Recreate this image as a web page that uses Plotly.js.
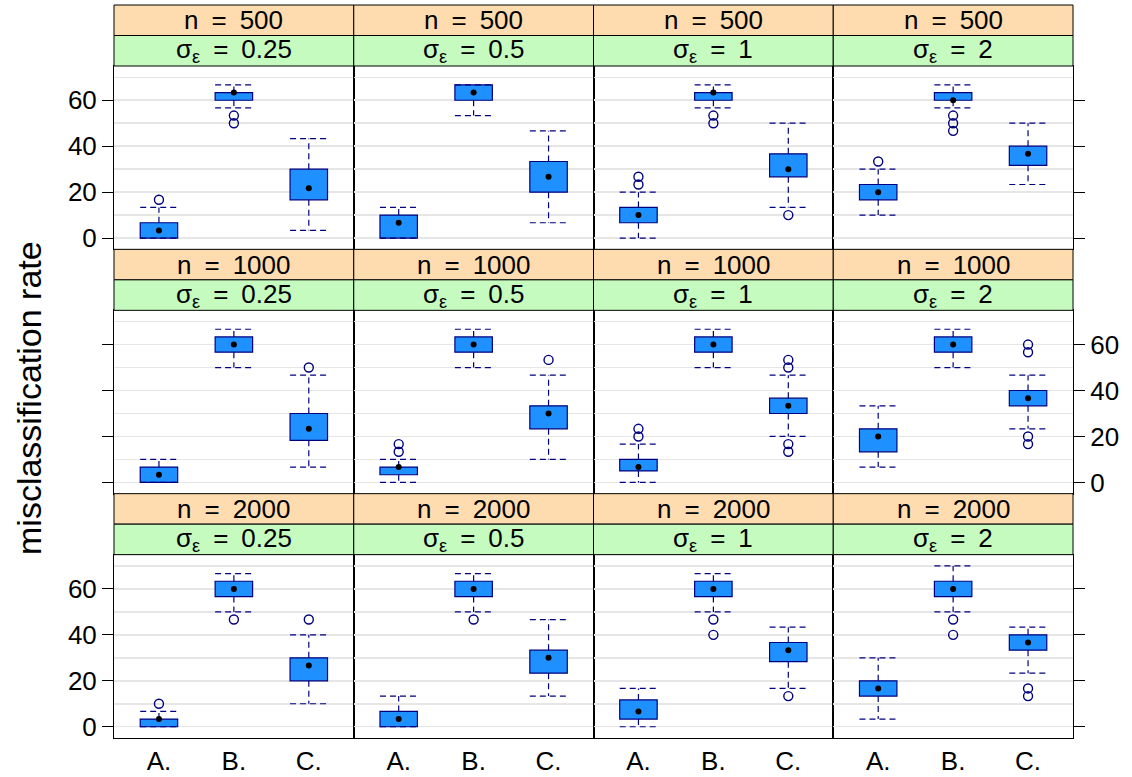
<!DOCTYPE html>
<html>
<head>
<meta charset="utf-8">
<script src="https://cdn.plot.ly/plotly-3.0.1.min.js"></script>
<style>
  html, body { margin: 0; padding: 0; background: #fff; }
  #chart { width: 1132px; height: 777px; }
</style>
</head>
<body>
<div id="chart"></div>
<script>
// Classifier groups on the x axis
const categories = ['A.', 'B.', 'C.'];
// Strip labels: sample size (rows, top to bottom) and noise level (columns)
const sampleSizes = ['500', '1000', '2000'];
const noiseLevels = ['0.25', '0.5', '1', '2'];
// y axis tick labels
const yTicks = [0, 20, 40, 60];

// Box statistics per panel (row-major: n=500 σ=0.25..2, n=1000 ..., n=2000 ...),
// each entry gives the values for A., B., C.
const boxLower = [
  [0, 60, 16.67], [0, 60, 20], [6.67, 60, 26.67], [16.67, 60, 31.67],
  [0, 56.67, 18.33], [3.33, 56.67, 23.33], [5, 56.67, 30], [13.33, 56.67, 33.33],
  [0, 56.67, 20], [0, 56.67, 23.33], [3.33, 56.67, 28.33], [13.33, 56.67, 33.33]
];
const boxMedian = [
  [3.33, 63.33, 21.67], [6.67, 63.33, 26.67], [10, 63.33, 30], [20, 60, 36.67],
  [3.33, 60, 23.33], [6.67, 60, 30], [6.67, 60, 33.33], [20, 60, 36.67],
  [3.33, 60, 26.67], [3.33, 60, 30], [6.67, 60, 33.33], [16.67, 60, 36.67]
];
const boxUpper = [
  [6.67, 63.33, 30], [10, 66.67, 33.33], [13.33, 63.33, 36.67], [23.33, 63.33, 40],
  [6.67, 63.33, 30], [6.67, 63.33, 33.33], [10, 63.33, 36.67], [23.33, 63.33, 40],
  [3.33, 63.33, 30], [6.67, 63.33, 33.33], [11.67, 63.33, 36.67], [20, 63.33, 40]
];
const whiskerLow = [
  [0, 56.67, 3.33], [0, 53.33, 6.67], [0, 56.67, 13.33], [10, 56.67, 23.33],
  [0, 50, 6.67], [0, 50, 10], [0, 50, 20], [6.67, 50, 23.33],
  [0, 50, 10], [0, 50, 13.33], [0, 50, 16.67], [3.33, 50, 23.33]
];
const whiskerHigh = [
  [13.33, 66.67, 43.33], [13.33, 66.67, 46.67], [20, 66.67, 50], [30, 66.67, 50],
  [10, 66.67, 46.67], [10, 66.67, 46.67], [16.67, 66.67, 46.67], [33.33, 66.67, 46.67],
  [6.67, 66.67, 40], [13.33, 66.67, 46.67], [16.67, 66.67, 43.33], [30, 70, 43.33]
];
const outliers = [
  [[16.67], [53.33, 50], []],
  [[], [], []],
  [[23.33, 26.67], [53.33, 50], [10]],
  [[33.33], [53.33, 50, 46.67], []],
  [[], [], [50]],
  [[13.33, 16.67], [], [53.33]],
  [[20, 23.33], [], [50, 53.33, 13.33, 16.67]],
  [[], [], [56.67, 60, 16.67, 20]],
  [[10], [46.67], [46.67]],
  [[], [46.67], []],
  [[], [46.67, 40], [13.33]],
  [[], [46.67, 40], [16.67, 13.33]]
];

// ---- page geometry (pixels) ----
const W = 1132, H = 777;
const plotL = 114, plotR = 1073, plotT = 5, plotB = 738;
const nRows = sampleSizes.length, nCols = noiseLevels.length;
const colW = (plotR - plotL) / nCols;
const rowH = (plotB - plotT) / nRows;
const stripH = 30.5;
const fx = px => (px - plotL) / (plotR - plotL);
const fy = py => (plotB - py) / (plotB - plotT);

const FONT = 'Liberation Sans, Arial, Helvetica, sans-serif';
const BOX_FILL = '#1E90FF';
const EDGE = '#00007F';
const GRID = '#e6e6e6';
const STRIP_TOP = '#ffdcb0';
const STRIP_BOTTOM = '#c6fbbf';
const TEXT_SIZE = 26;
const SP = '\u2002';
const boxWidth = 0.5;

const traces = [];
const layout = {
  width: W, height: H,
  margin: { l: plotL, r: W - plotR, t: plotT, b: H - plotB, pad: 0 },
  paper_bgcolor: '#fff', plot_bgcolor: '#fff',
  showlegend: false,
  font: { family: FONT, color: '#000' },
  shapes: [], annotations: [],
  bargap: 0
};

for (let r = 0; r < nRows; r++) {
  for (let c = 0; c < nCols; c++) {
    const p = r * nCols + c;
    const id = p === 0 ? '' : String(p + 1);
    const xa = 'x' + id, ya = 'y' + id;
    const left = plotL + c * colW, right = left + colW;
    const top = plotT + r * rowH;
    const panelTop = top + 2 * stripH, panelBot = top + rowH;

    const xIdx = categories.map((_, i) => i + 1);

    // whiskers and caps (dashed)
    const wx = [], wy = [];
    xIdx.forEach((x, i) => {
      const lo = boxLower[p][i], hi = boxUpper[p][i];
      const wl = whiskerLow[p][i], wh = whiskerHigh[p][i];
      wx.push(x, x, null, x - boxWidth / 2, x + boxWidth / 2, null);
      wy.push(hi, wh, null, wh, wh, null);
      wx.push(x, x, null, x - boxWidth / 2, x + boxWidth / 2, null);
      wy.push(lo, wl, null, wl, wl, null);
    });
    traces.push({
      type: 'scatter', mode: 'lines', x: wx, y: wy, xaxis: xa, yaxis: ya,
      line: { color: EDGE, width: 1.2, dash: '6px,4px' }, hoverinfo: 'skip'
    });

    // boxes
    traces.push({
      type: 'bar', x: xIdx, base: boxLower[p],
      y: boxUpper[p].map((u, i) => u - boxLower[p][i]),
      width: boxWidth, xaxis: xa, yaxis: ya,
      marker: { color: BOX_FILL, line: { color: EDGE, width: 1.2 } },
      hoverinfo: 'skip'
    });

    // outliers
    const ox = [], oy = [];
    outliers[p].forEach((vals, i) => vals.forEach(v => { ox.push(i + 1); oy.push(v); }));
    traces.push({
      type: 'scatter', mode: 'markers', x: ox, y: oy, xaxis: xa, yaxis: ya,
      marker: { symbol: 'circle-open', size: 9, color: EDGE, line: { width: 1.4, color: EDGE } },
      hoverinfo: 'skip'
    });

    // medians
    traces.push({
      type: 'scatter', mode: 'markers', x: xIdx, y: boxMedian[p], xaxis: xa, yaxis: ya,
      marker: { symbol: 'circle', size: 6, color: '#000' }, hoverinfo: 'skip'
    });

    const xKey = 'xaxis' + id, yKey = 'yaxis' + id;
    layout[xKey] = {
      domain: [fx(left), fx(right)], anchor: ya,
      range: [0.4, 3.6], tickmode: 'array', tickvals: xIdx, ticktext: categories,
      showticklabels: r === nRows - 1, ticks: '',
      tickfont: { size: TEXT_SIZE, family: FONT, color: '#000' },
      showgrid: false, zeroline: false,
      showline: true, mirror: true, linecolor: '#000', linewidth: 1,
      fixedrange: true
    };
    const yax = {
      domain: [fy(panelBot), fy(panelTop)], anchor: xa,
      range: [-4.9, 74.9], tickmode: 'array', tickvals: yTicks,
      showgrid: true, gridcolor: GRID, gridwidth: 1.5,
      minor: { tickmode: 'array', tickvals: [10, 30, 50, 70], showgrid: true, gridcolor: GRID, gridwidth: 1.5, ticks: '' },
      zeroline: false,
      showline: true, mirror: true, linecolor: '#000', linewidth: 1,
      tickfont: { size: TEXT_SIZE, family: FONT, color: '#000' },
      ticks: '', showticklabels: false, fixedrange: true
    };
    if (c === 0) {
      Object.assign(yax, { side: 'left', ticks: 'outside', ticklen: 11, tickwidth: 1, tickcolor: '#000', showticklabels: r !== 1 });
    } else if (c === nCols - 1) {
      Object.assign(yax, { side: 'right', ticks: 'outside', ticklen: 11, tickwidth: 1, tickcolor: '#000', showticklabels: r === 1 });
    }
    layout[yKey] = yax;

    // strips
    const stripDefs = [
      { y0: top, y1: top + stripH, fill: STRIP_TOP, text: 'n' + SP + '=' + SP + sampleSizes[r] },
      { y0: top + stripH, y1: panelTop, fill: STRIP_BOTTOM, text: 'σ<sub>ε</sub>' + SP + '=' + SP + noiseLevels[c] }
    ];
    stripDefs.forEach(s => {
      layout.shapes.push({
        type: 'rect', xref: 'paper', yref: 'paper',
        x0: fx(left), x1: fx(right), y0: fy(s.y1), y1: fy(s.y0),
        fillcolor: s.fill, line: { color: '#000', width: 1 }, layer: 'above'
      });
      layout.annotations.push({
        xref: 'paper', yref: 'paper', x: fx((left + right) / 2), y: fy((s.y0 + s.y1) / 2),
        xanchor: 'center', yanchor: 'middle', showarrow: false,
        text: s.text, font: { size: TEXT_SIZE, family: FONT, color: '#000' }
      });
    });
  }
}

// y axis title
layout.annotations.push({
  xref: 'paper', yref: 'paper', x: fx(29), y: fy(398),
  xanchor: 'center', yanchor: 'middle', showarrow: false, textangle: -90,
  text: 'misclassification rate', font: { size: 34, family: FONT, color: '#000' }
});

Plotly.newPlot('chart', traces, layout, { staticPlot: true, displayModeBar: false });
</script>
</body>
</html>
